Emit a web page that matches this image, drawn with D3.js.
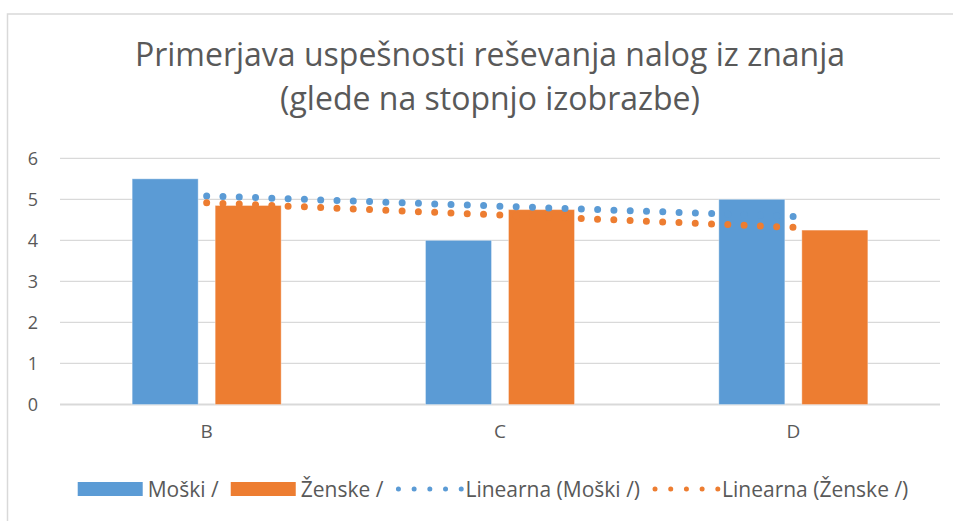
<!DOCTYPE html>
<html>
<head>
<meta charset="utf-8">
<script src="https://cdn.jsdelivr.net/npm/d3@7"></script>
<style>
  body { margin: 0; background: #fff; }
  text { font-family: "Open Sans", sans-serif; fill: #595959; }
</style>
</head>
<body>
<div id="chart"></div>
<script>
// data
const categories = ["B", "C", "D"];
const seriesNames = ["Moški /", "Ženske /"];
const moski = [5.5, 4.0, 5.0];
const zenske = [4.85, 4.75, 4.25];
const yTicks = [0, 1, 2, 3, 4, 5, 6];
const titleLines = ["Primerjava uspešnosti reševanja nalog iz znanja", "(glede na stopnjo izobrazbe)"];
const colors = ["#5B9BD5", "#ED7D31"];

const W = 953, H = 521;
const plot = { left: 60, right: 940, top: 158.3, bottom: 404.5 };

const svg = d3.select("#chart")
    .append("svg")
    .attr("width", W)
    .attr("height", H);

// chart frame (cut off at the right and bottom edges)
svg.append("rect")
    .attr("x", 7.5)
    .attr("y", 14)
    .attr("width", 980)
    .attr("height", 540)
    .attr("fill", "#fff")
    .attr("stroke", "#d9d9d9")
    .attr("stroke-width", 1.5);

// title
svg.append("text")
    .attr("x", 490)
    .attr("y", 66)
    .attr("text-anchor", "middle")
    .style("font-size", "32px")
    .selectAll("tspan")
    .data(titleLines)
    .enter()
    .append("tspan")
    .attr("x", 490)
    .attr("dy", (d, i) => i === 0 ? 0 : 44)
    .text(d => d);

const x0 = d3.scaleBand()
    .domain(categories)
    .range([plot.left, plot.right]);

const groupW = 149;
const x1 = d3.scaleBand()
    .domain(seriesNames)
    .range([(x0.bandwidth() - groupW) / 2, (x0.bandwidth() + groupW) / 2])
    .paddingInner(0.205);

const y = d3.scaleLinear()
    .domain([0, 6])
    .range([plot.bottom, plot.top]);

// gridlines
svg.append("g")
    .selectAll("line")
    .data(yTicks)
    .enter()
    .append("line")
    .attr("x1", plot.left)
    .attr("x2", plot.right)
    .attr("y1", d => y(d))
    .attr("y2", d => y(d))
    .attr("stroke", "#d9d9d9")
    .attr("stroke-width", d => d === 0 ? 1.8 : 1.3);

// y axis labels
const yAxis = d3.axisLeft(y).tickValues(yTicks).tickFormat(d3.format("d")).tickSize(0).tickPadding(0);
const gy = svg.append("g")
    .attr("transform", `translate(38,0)`)
    .call(yAxis);
gy.select(".domain").remove();
gy.selectAll("text")
    .style("font-size", "18px")
    .style("font-family", "'Open Sans', sans-serif")
    .attr("fill", "#595959");

// x axis labels
const xAxis = d3.axisBottom(x0).tickSize(0).tickPadding(0);
const gx = svg.append("g")
    .attr("transform", `translate(0,424)`)
    .call(xAxis);
gx.select(".domain").remove();
gx.selectAll("text")
    .style("font-size", "19px")
    .style("font-family", "'Open Sans', sans-serif")
    .attr("fill", "#595959");

// bars
const rows = categories.map((c, i) => ({ cat: c, values: [moski[i], zenske[i]] }));
svg.append("g")
    .selectAll("g")
    .data(rows)
    .enter()
    .append("g")
    .attr("transform", d => `translate(${x0(d.cat)},0)`)
    .selectAll("rect")
    .data(d => d.values.map((v, j) => ({ name: seriesNames[j], value: v, j })))
    .enter()
    .append("rect")
    .attr("x", d => x1(d.name))
    .attr("y", d => y(d.value))
    .attr("width", x1.bandwidth())
    .attr("height", d => y(0) - y(d.value))
    .attr("fill", d => colors[d.j])
    .attr("stroke", "#ffffff")
    .attr("stroke-opacity", 0.35)
    .attr("stroke-width", 1);

// linear trendlines (least squares over category index 1..n)
function trend(values) {
    const xs = values.map((v, i) => i + 1);
    const mx = d3.mean(xs), my = d3.mean(values);
    const slope = d3.sum(xs, (xv, i) => (xv - mx) * (values[i] - my)) / d3.sum(xs, xv => (xv - mx) ** 2);
    const icpt = my - slope * mx;
    return xs.map(xv => ({ x: xv, y: icpt + slope * xv }));
}
const xc = i => x0(categories[i - 1]) + x0.bandwidth() / 2;
const trendLine = d3.line()
    .x(d => xc(d.x))
    .y(d => y(d.y));

[moski, zenske].forEach((vals, j) => {
    const pts = trend(vals);
    svg.append("path")
        .datum([pts[0], pts[pts.length - 1]])
        .attr("fill", "none")
        .attr("stroke", colors[j])
        .attr("stroke-width", 7)
        .attr("stroke-linecap", "round")
        .attr("stroke-dasharray", "0 16.3")
        .attr("d", trendLine);
});

// legend
const legendItems = [
    { label: "Moški /", color: colors[0], type: "rect" },
    { label: "Ženske /", color: colors[1], type: "rect" },
    { label: "Linearna (Moški /)", color: colors[0], type: "dots" },
    { label: "Linearna (Ženske /)", color: colors[1], type: "dots" }
];
const legend = svg.append("g");
let cursor = 0;
legendItems.forEach(item => {
    const g = legend.append("g").attr("transform", `translate(${cursor},0)`);
    if (item.type === "rect") {
        g.append("rect")
            .attr("x", 0)
            .attr("y", -7)
            .attr("width", 65)
            .attr("height", 14)
            .attr("fill", item.color);
    } else {
        g.append("line")
            .attr("x1", 3)
            .attr("x2", 66)
            .attr("y1", 0)
            .attr("y2", 0)
            .attr("stroke", item.color)
            .attr("stroke-width", 5)
            .attr("stroke-linecap", "round")
            .attr("stroke-dasharray", "0 15.7");
    }
    const t = g.append("text")
        .attr("x", 70)
        .attr("y", 8)
        .style("font-size", "21px")
        .text(item.label);
    cursor += 70 + t.node().getComputedTextLength() + 12;
});
cursor -= 12;
legend.attr("transform", `translate(${493 - cursor / 2},489)`);
</script>
</body>
</html>
